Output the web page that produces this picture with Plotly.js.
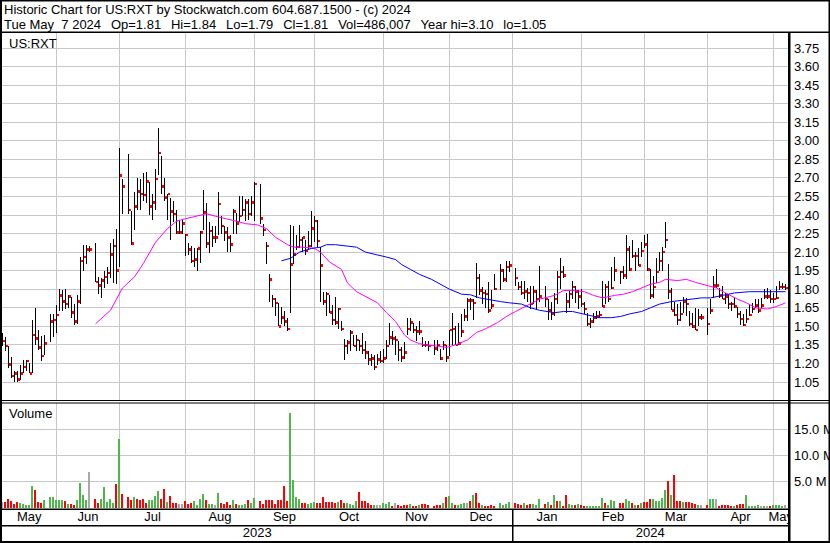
<!DOCTYPE html>
<html><head><meta charset="utf-8">
<script src="https://cdn.plot.ly/plotly-3.0.1.min.js"></script>
<style>html,body{margin:0;padding:0;background:#fff;overflow:hidden}#chart{width:830px;height:543px}</style>
</head><body><div id="chart"></div>
<script>
// ---------- DATA (one slot per weekday, May 8 2023 .. May 7 2024; null = no trading) ----------
const highs = [
1.45,1.41,1.34,1.25,1.14,1.14,1.19,1.23,1.23,1.20,
1.55,1.65,1.47,1.42,1.43,null,1.60,1.60,1.67,1.80,
1.79,1.80,1.75,1.74,1.68,1.75,2.06,2.16,2.16,2.15,
null,2.17,1.90,1.89,1.95,1.98,2.17,2.21,2.29,2.94,
2.69,null,2.89,2.43,2.59,2.70,2.69,2.74,2.75,2.67,
2.57,2.77,3.10,2.88,2.70,2.57,2.54,2.51,2.44,2.36,
2.36,2.25,2.17,2.15,2.13,2.13,2.27,2.60,2.50,2.34,
2.31,2.31,2.59,2.39,2.31,2.30,2.24,2.45,2.42,2.55,
2.55,2.53,2.53,2.55,2.67,null,2.65,2.33,2.18,1.92,
1.75,1.73,1.69,1.66,1.62,1.57,2.32,2.31,2.24,2.32,
2.22,2.20,2.27,2.43,2.39,2.36,2.14,1.78,1.78,1.75,
1.67,1.74,1.65,1.54,1.40,1.39,1.47,1.43,1.43,1.39,
1.45,1.38,1.30,1.28,1.27,1.28,1.30,1.32,1.39,1.53,
1.46,1.42,1.38,1.33,1.37,1.57,1.57,1.53,1.50,1.54,
1.41,1.38,1.38,null,1.39,1.39,1.32,1.38,1.35,1.47,
1.61,1.50,1.53,1.60,1.64,1.73,1.73,1.72,2.01,1.92,
1.82,1.79,1.86,1.79,1.92,null,2.00,1.96,2.03,2.03,
null,1.97,1.86,1.87,1.87,1.81,1.83,1.83,1.79,1.99,
null,1.83,1.72,1.70,1.77,1.95,2.05,1.99,1.77,1.79,
1.87,1.83,1.79,1.80,1.70,1.61,1.57,1.61,1.62,1.62,
1.87,1.84,1.87,1.98,2.06,null,1.95,1.99,2.24,2.15,
2.20,2.10,2.13,2.18,2.24,2.25,1.96,1.91,2.05,2.10,
2.14,2.34,2.00,1.81,1.70,1.68,1.70,1.74,1.73,1.62,
1.61,1.65,1.64,1.60,null,1.65,1.72,1.91,1.96,1.81,
1.83,1.77,1.76,1.70,1.74,1.66,1.62,1.60,1.64,1.67,
1.69,1.72,1.72,1.73,1.80,1.81,1.79,1.77,1.83,1.87,
1.85,1.84];
const lows = [
1.34,1.30,1.16,1.08,1.05,1.05,1.07,1.12,1.14,1.12,
1.12,1.35,1.31,1.22,1.27,null,1.37,1.41,1.45,1.62,
1.62,1.64,1.65,1.57,1.51,1.52,1.68,1.95,2.00,2.10,
null,1.86,1.76,1.73,1.81,1.84,1.89,1.85,1.84,1.98,
2.41,null,2.41,2.16,2.28,2.44,2.44,2.51,2.50,2.40,
2.36,2.44,2.72,2.57,2.51,2.36,2.20,2.34,2.25,2.25,
2.25,2.07,2.08,2.01,1.98,1.95,2.01,2.28,2.13,2.09,
2.14,2.17,2.24,2.25,2.19,2.10,2.10,2.25,2.25,2.34,
2.39,2.35,2.36,2.39,2.35,null,2.33,2.23,2.00,1.70,
1.66,1.58,1.50,1.52,1.50,1.46,1.61,2.00,2.12,2.13,
2.10,2.08,2.12,2.14,2.18,2.14,1.70,1.67,1.58,1.61,
1.51,1.51,1.48,1.46,1.23,1.28,1.30,1.34,1.30,1.30,
1.28,1.24,1.19,1.18,1.15,1.19,1.20,1.20,1.24,1.35,
1.35,1.27,1.22,1.21,1.24,1.43,1.46,1.45,1.38,1.43,
1.33,1.33,1.30,null,1.27,1.30,1.23,1.31,1.21,1.26,
1.35,1.35,1.35,1.41,1.54,1.54,1.63,1.55,1.73,1.75,
1.68,1.65,1.61,1.64,1.79,null,1.79,1.86,1.86,1.94,
null,1.83,1.79,1.75,1.72,1.70,1.64,1.68,1.63,1.70,
null,1.66,1.55,1.55,1.58,1.68,1.80,1.89,1.61,1.65,
1.72,1.69,1.64,1.66,1.60,1.50,1.49,1.53,1.56,1.57,
1.66,1.68,1.70,1.80,1.87,null,1.84,1.88,1.88,1.95,
2.05,1.95,1.99,2.06,2.13,1.95,1.72,1.73,1.85,1.95,
1.95,2.13,1.72,1.63,1.58,1.51,1.54,1.61,1.58,1.50,
1.49,1.47,1.50,1.55,null,1.43,1.60,1.73,1.81,1.73,
1.72,1.68,1.64,1.62,1.65,1.57,1.51,1.50,1.53,1.58,
1.61,1.65,1.61,1.65,1.72,1.72,1.69,1.69,1.72,1.79,
1.80,1.79];
const closes = [
1.38,1.34,1.19,1.10,1.12,1.07,1.12,1.17,1.22,1.12,
1.43,1.40,1.33,1.26,1.36,null,1.54,1.55,1.59,1.75,
1.70,1.68,1.74,1.61,1.54,1.70,2.03,2.06,2.12,2.12,
null,1.86,1.83,1.87,1.90,1.93,2.08,2.15,1.95,2.72,
2.63,null,2.44,2.17,2.47,2.59,2.57,2.56,2.67,2.47,
2.50,2.69,2.90,2.63,2.54,2.57,2.43,2.41,2.26,2.26,
2.33,2.24,2.12,2.03,2.04,2.13,2.26,2.42,2.17,2.27,
2.22,2.22,2.49,2.31,2.26,2.22,2.16,2.43,2.33,2.39,
2.44,2.50,2.41,2.50,2.65,null,2.37,2.28,2.15,1.88,
1.72,1.69,1.50,1.57,1.54,1.48,2.00,2.08,2.14,2.20,
2.22,2.11,2.15,2.29,2.35,2.19,1.99,1.70,1.76,1.61,
1.55,1.53,1.64,1.48,1.34,1.37,1.45,1.34,1.39,1.34,
1.31,1.29,1.23,1.24,1.17,1.23,1.22,1.24,1.34,1.41,
1.40,1.39,1.31,1.25,1.29,1.48,1.53,1.47,1.46,1.46,
1.35,1.35,1.34,null,1.32,1.35,1.24,1.35,1.25,1.47,
1.48,1.35,1.36,1.46,1.58,1.71,1.71,1.69,1.89,1.79,
1.77,1.76,1.63,1.67,1.80,null,1.95,1.88,1.98,1.99,
null,1.89,1.82,1.77,1.78,1.77,1.68,1.78,1.72,1.74,
null,1.72,1.63,1.60,1.72,1.90,1.94,1.91,1.70,1.76,
1.82,1.78,1.74,1.68,1.64,1.52,1.54,1.57,1.58,1.59,
1.66,1.82,1.72,1.81,1.95,null,1.94,1.91,2.12,1.96,
2.07,2.07,1.99,2.11,2.16,1.96,1.75,1.82,1.94,2.03,
2.10,2.20,1.78,1.63,1.59,1.55,1.60,1.70,1.68,1.52,
1.50,1.47,1.57,1.57,null,1.52,1.63,1.83,1.83,1.75,
1.72,1.74,1.68,1.68,1.66,1.60,1.56,1.51,1.56,1.59,
1.64,1.67,1.63,1.67,1.74,1.74,1.72,1.72,1.73,1.82,
1.82,1.81];
// volume in millions of shares
const volumesM = [
1.09,1.03,1.54,1.22,0.77,1.03,0.90,0.64,0.45,0.51,
4.10,3.33,1.09,0.90,1.41,null,1.99,1.99,1.35,1.47,
1.41,1.22,0.77,0.58,0.45,1.41,4.68,2.37,1.41,6.80,
null,1.60,0.83,1.67,3.90,1.03,1.67,0.83,4.49,13.1,
2.56,null,1.99,1.41,1.99,1.54,1.47,1.60,0.96,1.35,
1.47,2.18,3.14,1.60,3.53,1.09,2.18,0.83,0.96,0.58,
0.58,1.22,0.58,0.83,1.22,0.45,1.67,2.56,1.47,0.71,
0.71,0.45,2.76,0.90,0.58,1.03,0.45,1.47,0.77,0.45,
0.51,0.71,1.41,0.96,1.79,null,1.22,0.71,1.41,1.41,
1.41,0.58,1.41,1.41,4.10,1.22,18.1,5.26,1.99,1.54,
0.96,0.96,0.58,0.96,1.15,0.83,0.83,1.99,1.03,1.03,
1.03,0.83,1.03,1.41,0.83,0.96,0.64,0.51,1.22,2.95,
1.22,1.22,0.83,0.51,0.45,0.45,0.45,0.83,0.71,1.03,
0.38,0.83,0.51,0.26,0.45,0.45,0.71,0.38,0.26,0.45,
0.77,0.77,0.40,null,0.38,0.45,0.45,0.83,1.99,2.18,
0.83,0.45,0.45,0.71,0.83,0.83,1.22,2.37,2.76,0.83,
0.45,0.38,0.38,0.45,0.30,null,0.83,0.45,0.71,1.03,
null,0.83,0.58,0.45,0.83,0.45,0.58,0.64,0.51,1.60,
null,0.58,1.03,0.45,2.37,1.22,1.22,0.32,2.37,0.58,
0.45,0.45,0.71,0.45,0.26,0.32,0.26,0.26,0.26,0.26,
1.79,0.83,0.51,1.41,1.22,null,0.83,0.83,1.60,1.22,
0.83,0.51,0.45,0.83,1.03,1.09,1.60,1.60,1.22,1.22,
1.79,3.33,5.07,2.37,6.22,1.22,1.22,1.03,1.03,1.03,
0.83,0.58,0.45,0.45,null,0.45,1.60,1.60,1.60,0.26,
0.45,0.45,0.45,0.26,0.26,0.45,0.64,0.58,2.37,0.26,
0.26,0.26,0.45,0.26,0.26,0.26,0.26,0.45,0.45,0.45,
0.26,0.49];
const volDir = [
0,-1,-1,-1,-1,-1,1,1,1,1,
1,-1,-1,-1,1,null,1,1,1,1,
1,-1,1,-1,-1,1,1,1,1,0,
null,-1,-1,1,1,1,1,1,-1,1,
-1,null,-1,-1,1,-1,-1,-1,-1,1,
1,1,1,-1,-1,1,-1,-1,-1,0,
0,-1,-1,-1,1,1,1,1,-1,1,
1,0,1,-1,-1,-1,-1,1,-1,1,
1,1,-1,1,1,null,-1,-1,-1,-1,
-1,-1,-1,-1,-1,-1,1,1,1,1,
-1,-1,1,1,1,-1,-1,-1,-1,-1,
-1,-1,1,-1,-1,1,1,1,1,-1,
-1,-1,-1,-1,1,0,0,1,1,1,
-1,0,-1,-1,-1,-1,1,-1,-1,1,
-1,-1,-1,null,-1,-1,-1,1,-1,1,
1,-1,1,1,1,0,-1,1,-1,-1,
1,-1,-1,-1,-1,null,1,1,1,1,
null,-1,-1,-1,1,-1,-1,1,1,1,
null,-1,1,-1,1,-1,1,-1,-1,1,
1,-1,1,-1,-1,1,1,1,1,1,
1,-1,1,1,1,null,-1,-1,1,1,
-1,1,-1,1,-1,-1,-1,1,1,1,
1,1,-1,1,-1,-1,-1,1,-1,-1,
-1,-1,1,0,null,-1,1,1,0,-1,
-1,-1,-1,-1,1,-1,-1,-1,1,1,
1,1,1,0,1,0,-1,1,1,1,
1,0];
// moving averages (slot, value)
const maShortSlots = [31,36,40,44,47,51,55,58,61,65,68,71,75,78,81,85,88,91,95,97,100,104,106,109,113,115,118,121,125,128,131,134,136,139,141,145,148,151,155,158,161,165,168,171,176,179,184,187,190,194,197,200,204,207,210,214,216,219,221,225,228,231,235,238,241,245,248,251,255,258,261];
const maShortValues = [1.52,1.63,1.81,1.90,2.01,2.18,2.29,2.35,2.37,2.39,2.41,2.39,2.37,2.35,2.33,2.32,2.29,2.22,2.16,2.14,2.14,2.13,2.10,2.02,1.96,1.85,1.78,1.74,1.69,1.61,1.54,1.43,1.39,1.36,1.35,1.34,1.33,1.35,1.39,1.45,1.48,1.53,1.58,1.62,1.68,1.72,1.75,1.79,1.79,1.78,1.75,1.73,1.75,1.76,1.78,1.82,1.84,1.855,1.88,1.87,1.88,1.855,1.83,1.81,1.77,1.72,1.69,1.65,1.64,1.66,1.69];
const maLongSlots = [93,96,99,103,106,108,111,115,118,121,125,128,131,133,136,139,143,146,149,153,156,159,163,166,169,173,176,179,184,187,190,194,197,199,203,206,209,213,216,219,223,226,229,233,236,240,244,249,255,261];
const maLongValues = [2.03,2.05,2.10,2.13,2.14,2.16,2.16,2.15,2.14,2.10,2.08,2.06,2.04,2.00,1.96,1.92,1.88,1.84,1.80,1.76,1.755,1.73,1.71,1.70,1.69,1.68,1.65,1.63,1.61,1.62,1.62,1.60,1.58,1.57,1.57,1.58,1.60,1.62,1.65,1.68,1.70,1.71,1.72,1.73,1.73,1.75,1.77,1.78,1.78,1.78];
const priceTicks = [1.05,1.20,1.35,1.50,1.65,1.80,1.95,2.10,2.25,2.40,2.55,2.70,2.85,3.00,3.15,3.30,3.45,3.60,3.75];
const volumeTicks = [5e6,10e6,15e6];
const volumeTickText = ['5.0 M','10.0 M','15.0 M'];
const monthLabels = ['May','Jun','Jul','Aug','Sep','Oct','Nov','Dec','Jan','Feb','Mar','Apr','May'];
const monthStartSlots = [18,39,61,84,104,127,149,170,193,214,235,257];
const yearLabels = ['2023','2024'];
const yearStartSlots = [170];
const symbol = 'US:RXT';
const headerLine1 = 'Historic Chart for US:RXT by Stockwatch.com 604.687.1500 - (c) 2024';
const headerFields = ['Tue May  7 2024', 'Op=1.81', 'Hi=1.84', 'Lo=1.79', 'Cl=1.81', 'Vol=486,007', 'Year hi=3.10', 'lo=1.05'];

// ---------- LAYOUT GEOMETRY ----------
const FONT = '"Liberation Sans", Arial, sans-serif';
const W = 830, H = 543, ML = 2, MR = 42, MT = 33, MB = 2;
const PW = W - ML - MR, PH = H - MT - MB;
const fx = px => (px - ML) / PW;
const fy = py => (H - MB - py) / PH;
const X0 = -1/6, X1 = X0 + PW / 3;            // 3 px per weekday slot
const PRICE_PX = 123.7;                         // pixels per 1.00 of price
const priceRange = [1.05 - (401 - 382) / PRICE_PX, 1.05 + (382 - 33) / PRICE_PX];
const VOL_PX = 26 / 5e6;
const volRange = [-(508 - 507.5) / VOL_PX, (507.5 - 403) / VOL_PX];

const slots = highs.map((_, i) => i);
const spanLen = highs.map((h, i) => h == null ? null : h - lows[i]);
const markH = 2.5 / PRICE_PX;
const closeBase = closes.map(c => c == null ? null : c - markH / 2);
const closeLen = closes.map(c => c == null ? null : markH);
const volShares = volumesM.map(v => v == null ? null : v * 1e6);
const volColors = volDir.map(d => d === 1 ? '#4cb84c' : d === -1 ? '#ff0000' : '#a8a8a8');

const bounds = [X0].concat(monthStartSlots, [X1]);
const monthCenters = monthLabels.map((_, i) => (bounds[i] + bounds[i + 1]) / 2);
const yb = [X0].concat(yearStartSlots, [X1]);
const yearCenters = yearLabels.map((_, i) => (yb[i] + yb[i + 1]) / 2);

const traces = [
  {type:'bar', x:slots, y:spanLen, base:lows, width:1/3, marker:{color:'#000', line:{width:0}}, xaxis:'x', yaxis:'y', hoverinfo:'skip'},
  {type:'bar', x:slots, y:closeLen, base:closeBase, offset:1/6, width:0.8, marker:{color:'#ff0000', line:{width:0}}, xaxis:'x', yaxis:'y', hoverinfo:'skip'},
  {type:'scatter', mode:'lines', x:maShortSlots, y:maShortValues, line:{color:'#ff00ff', width:1}, xaxis:'x', yaxis:'y', hoverinfo:'skip'},
  {type:'scatter', mode:'lines', x:maLongSlots, y:maLongValues, line:{color:'#0000ff', width:1}, xaxis:'x', yaxis:'y', hoverinfo:'skip'},
  {type:'bar', x:slots, y:volShares, offset:-0.5, width:2/3, marker:{color:volColors, line:{width:0}}, xaxis:'x2', yaxis:'y2', hoverinfo:'skip'},
  {type:'scatter', mode:'text', x:monthCenters, y:monthLabels.map(() => 0.73), text:monthLabels, textfont:{family:FONT, size:13, color:'#000'}, cliponaxis:true, xaxis:'x3', yaxis:'y3', hoverinfo:'skip'},
  {type:'scatter', mode:'text', x:yearCenters, y:yearLabels.map(() => 0.24), text:yearLabels, textfont:{family:FONT, size:13, color:'#000'}, cliponaxis:true, xaxis:'x3', yaxis:'y3', hoverinfo:'skip'}
];

function rectPx(x0, y0, x1, y1) {
  return {type:'rect', xref:'paper', yref:'paper', x0:fx(x0), x1:fx(x1), y0:fy(y1), y1:fy(y0),
          fillcolor:'#000', line:{width:0}, layer:'above'};
}
const shapes = [
  rectPx(0, 0, 830, 1.5), rectPx(0, 0, 2, 543), rectPx(828.5, 0, 830, 543), rectPx(0, 541, 830, 543),
  rectPx(0, 31.5, 830, 33), rectPx(788, 33, 790.5, 543),
  rectPx(0, 400, 830, 401), rectPx(0, 402.5, 830, 403.5),
  rectPx(0, 508.5, 790, 510), rectPx(0, 525, 790, 526.5),
  rectPx(2.5 + 3 * yearStartSlots[0] - 0.5, 509, 2.5 + 3 * yearStartSlots[0] + 1, 541)
];
const nb = s => s.replace(/ /g, '\u00a0');
const fieldGap = '\u00a0\u00a0\u2009';
const headerLine2 = headerFields.map(nb).join(fieldGap);
const ann = (text, px, py) => ({text:text, xref:'paper', yref:'paper', x:fx(px), y:fy(py), xanchor:'left', yanchor:'middle',
  showarrow:false, font:{family:FONT, size:13, color:'#000'}, borderpad:0});
const grid = '#c8c8c8';
const xBase = {range:[X0, X1], tickmode:'array', tickvals:monthStartSlots, showticklabels:false, ticks:'',
  showgrid:true, gridcolor:grid, gridwidth:1, zeroline:false, showline:false, fixedrange:true};
const layout = {
  width:W, height:H, margin:{l:ML, r:MR, t:MT, b:MB, pad:0}, paper_bgcolor:'#fff', plot_bgcolor:'#fff',
  showlegend:false, barmode:'overlay', bargap:0, hovermode:false, font:{family:FONT, size:13, color:'#000'},
  xaxis:Object.assign({}, xBase, {domain:[0,1], anchor:'y'}),
  xaxis2:Object.assign({}, xBase, {domain:[0,1], anchor:'y2'}),
  xaxis3:Object.assign({}, xBase, {domain:[0,1], anchor:'y3', showgrid:false}),
  yaxis:{domain:[fy(401), fy(33)], range:priceRange, side:'right', anchor:'x', tickmode:'array', tickvals:priceTicks,
    ticktext:priceTicks.map(v => v.toFixed(2)), ticks:'', ticklabelstandoff:5, showgrid:true, gridcolor:grid, gridwidth:1,
    zeroline:false, showline:false, tickfont:{family:FONT, size:13, color:'#000'}, fixedrange:true},
  yaxis2:{domain:[fy(508), fy(403)], range:volRange, side:'right', anchor:'x2', tickmode:'array', tickvals:volumeTicks,
    ticktext:volumeTickText, ticks:'', ticklabelstandoff:5, showgrid:true, gridcolor:grid, gridwidth:1,
    zeroline:false, showline:false, tickfont:{family:FONT, size:13, color:'#000'}, fixedrange:true},
  yaxis3:{domain:[fy(541), fy(509)], range:[0,1], anchor:'x3', showgrid:false, showticklabels:false, ticks:'', zeroline:false, fixedrange:true},
  shapes:shapes,
  annotations:[ann(nb(headerLine1), 3, 9), ann(headerLine2, 3, 24), ann(nb(symbol), 8, 44), ann('Volume', 8, 413)]
};
Plotly.newPlot('chart', traces, layout, {staticPlot:true, displayModeBar:false});
</script>
</body></html>
